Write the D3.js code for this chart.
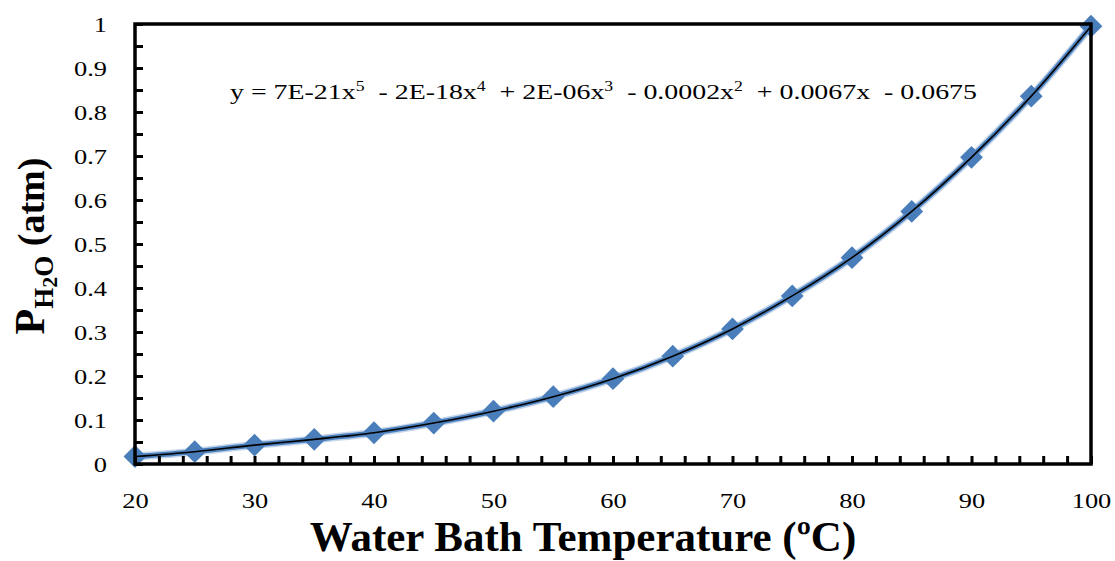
<!DOCTYPE html>
<html>
<head>
<meta charset="utf-8">
<script src="https://cdn.jsdelivr.net/npm/d3@7"></script>
<style>
  html, body { margin: 0; padding: 0; background: #fff; }
  svg { display: block; }
  svg text { font-family: "Liberation Serif", "Times New Roman", serif !important; fill: #000; }
</style>
</head>
<body>
<svg id="chart" width="1115" height="561"></svg>
<script>
// Vapour pressure of water against bath temperature
const temperatures = [20, 25, 30, 35, 40, 45, 50, 55, 60, 65, 70, 75, 80, 85, 90, 95, 100];
const pressures = [0.017, 0.028, 0.043, 0.056, 0.071, 0.093, 0.120, 0.153, 0.194, 0.245, 0.307, 0.382, 0.469, 0.574, 0.697, 0.836, 0.995];
const xTickValues = [20, 30, 40, 50, 60, 70, 80, 90, 100];
const yTickValues = [0, 0.1, 0.2, 0.3, 0.4, 0.5, 0.6, 0.7, 0.8, 0.9, 1];
const xMinorTicks = d3.range(20, 101, 2);
const yMinorTicks = d3.range(0, 1.0001, 0.05);

const SERIF = '"Liberation Serif", "Times New Roman", serif';
const svg = d3.select("#chart");
const W = 1115, H = 561;
const margin = { left: 135, right: W - 1091, top: 24, bottom: H - 464 };
const x = d3.scaleLinear().domain([20, 100]).range([margin.left, W - margin.right]);
const y = d3.scaleLinear().domain([0, 1]).range([H - margin.bottom, margin.top]);

const data = temperatures.map((t, i) => ({ t, p: pressures[i] }));

// Series line (blue) and trend curve (black)
const line = d3.line().x(d => x(d.t)).y(d => y(d.p)).curve(d3.curveCatmullRom.alpha(0.5));

svg.append("path").datum(data)
  .attr("d", line)
  .attr("fill", "none")
  .attr("stroke", "#9dbbe0")
  .attr("stroke-width", 8)
  .attr("stroke-opacity", 0.6);
svg.append("path").datum(data)
  .attr("d", line)
  .attr("fill", "none")
  .attr("stroke", "#4a7ebb")
  .attr("stroke-width", 5);

// Diamond markers
const diamond = d3.symbol().type(d3.symbolSquare).size(260);
svg.append("g").selectAll("path").data(data).join("path")
  .attr("d", diamond)
  .attr("transform", d => `translate(${x(d.t)},${y(d.p)}) rotate(45)`)
  .attr("fill", "#4a7ebb");

svg.append("path").datum(data)
  .attr("d", line)
  .attr("fill", "none")
  .attr("stroke", "#000")
  .attr("stroke-width", 1.6);

// Axes with inward ticks
const gx = svg.append("g").attr("transform", `translate(0,${y(0)})`)
  .call(d3.axisTop(x).tickValues(xMinorTicks).tickSize(8).tickFormat(""));
gx.select(".domain").remove();
gx.selectAll("line").attr("stroke", "#000").attr("stroke-width", 3);

const gy = svg.append("g").attr("transform", `translate(${x(20)},0)`)
  .call(d3.axisRight(y).tickValues(yMinorTicks).tickSize(8).tickFormat(""));
gy.select(".domain").remove();
gy.selectAll("line").attr("stroke", "#000").attr("stroke-width", 3);

// Frame
svg.append("rect")
  .attr("x", x(20)).attr("y", y(1))
  .attr("width", x(100) - x(20)).attr("height", y(0) - y(1))
  .attr("fill", "none").attr("stroke", "#000").attr("stroke-width", 3.5);

// Tick labels (slightly widened glyphs)
const SX = 1.2;
const gxl = svg.append("g").attr("transform", `translate(0,${y(0)})`)
  .call(d3.axisBottom(x).tickValues(xTickValues).tickSize(0).tickPadding(0).tickFormat(d3.format("d")));
gxl.select(".domain").remove();
gxl.attr("font-family", SERIF).attr("font-size", 22);
gxl.selectAll("text")
  .attr("y", 44).attr("dy", null)
  .attr("transform", `scale(${SX},1)`)
  .attr("fill", "#000");

const gyl = svg.append("g").attr("transform", `translate(${x(20)},0)`)
  .call(d3.axisLeft(y).tickValues(yTickValues).tickSize(0).tickPadding(0)
    .tickFormat(d => d === 0 ? "0" : d === 1 ? "1" : d3.format(".1f")(d)));
gyl.select(".domain").remove();
gyl.attr("font-family", SERIF).attr("font-size", 22);
gyl.selectAll("text")
  .attr("x", -28 / SX).attr("dy", "0.35em")
  .attr("transform", `scale(${SX},1)`)
  .attr("fill", "#000");

// Trendline equation
const eq = svg.append("text")
  .attr("x", 0).attr("y", 0)
  .attr("font-family", SERIF)
  .style("font-size", "22px")
  .style("white-space", "pre");
const parts = [
  ["y = 7E-21x", false], ["5", true], ["  - 2E-18x", false], ["4", true],
  ["  + 2E-06x", false], ["3", true], ["  - 0.0002x", false], ["2", true],
  ["  + 0.0067x  - 0.0675", false]
];
parts.forEach(([s, sup], i) => {
  const ts = eq.append("tspan").text(s);
  if (sup) ts.attr("dy", -8).style("font-size", "14px");
  else if (i > 0) ts.attr("dy", 8);
});
const eqW = eq.node().getComputedTextLength();
eq.attr("transform", `translate(230,99) scale(${747 / eqW},1)`);

// Axis titles
svg.append("text")
  .attr("x", 583).attr("y", 551)
  .attr("text-anchor", "middle")
  .attr("font-family", SERIF)
  .style("font-size", "43px").style("font-weight", "bold")
  .text("Water Bath Temperature (ºC)");

const yt = svg.append("text")
  .attr("transform", "translate(44,246) rotate(-90)")
  .attr("text-anchor", "middle")
  .attr("font-family", SERIF)
  .style("font-weight", "bold");
yt.append("tspan").text("P").style("font-size", "42px");
yt.append("tspan").text("H").attr("dy", 9).style("font-size", "27px");
yt.append("tspan").text("2").attr("dy", 4).style("font-size", "22px");
yt.append("tspan").text("O").attr("dy", -4).style("font-size", "27px");
yt.append("tspan").text(" (atm)").attr("dy", -9).style("font-size", "38px");
</script>
</body>
</html>
